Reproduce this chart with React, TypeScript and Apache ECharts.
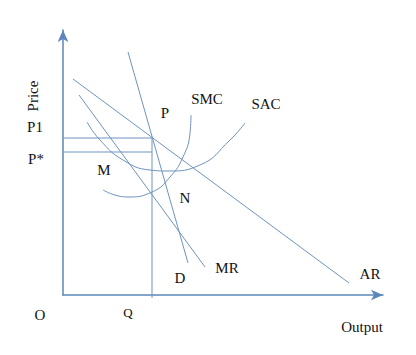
import React, { useEffect, useRef } from "react";
import * as echarts from "echarts";

// Economic diagram values (abstract units: output on x, price on y)
const arLine: number[][] = [[10, 216], [286, 12]];
const mrLine: number[][] = [[16, 200], [142, 28]];
const dLine: number[][] = [[65, 243], [125, 32]];
const sacCurve: number[][] = [[24, 173], [37, 155], [60, 135], [87, 125], [105, 124], [137, 130], [167, 155], [182, 172]];
const smcCurve: number[][] = [[40, 105], [64, 98], [89, 103], [107, 118], [120, 138], [127, 162], [128, 180]];
const p1Price = 157;
const pStarPrice = 143;
const qOutput = 89;

const LINE = "#6f93c0";
const AXIS = "#5b86bb";
const FONT = "15px 'Liberation Serif', 'Times New Roman', serif";

export default function App() {
  const ref = useRef<HTMLDivElement>(null);
  useEffect(() => {
    if (!ref.current) return;
    const chart = echarts.init(ref.current, undefined, { renderer: "svg" });
    const lineSeries = (name: string, data: number[][], smooth: boolean | number = false, clip = true) => ({
      name,
      type: "line",
      data,
      smooth,
      clip,
      showSymbol: false,
      symbol: "none",
      lineStyle: { color: LINE, width: 1 },
      silent: true,
    });
    const txt = (text: string, x: number, y: number, font = FONT, rotation = 0) => ({
      type: "text",
      x,
      y,
      rotation,
      style: { text, fill: "#111", font, textAlign: "center", textVerticalAlign: "middle" },
    });
    chart.setOption({
      animation: false,
      grid: { left: 63, right: 33, top: 30, bottom: 60 },
      xAxis: {
        type: "value",
        min: 0,
        max: 320,
        axisLine: { show: true, onZero: false, symbol: ["none", "arrow"], symbolSize: [8, 12], lineStyle: { color: AXIS, width: 1.5 } },
        axisTick: { show: false },
        axisLabel: { show: false },
        splitLine: { show: false },
      },
      yAxis: {
        type: "value",
        min: 0,
        max: 265,
        axisLine: { show: true, onZero: false, symbol: ["none", "arrow"], symbolSize: [8, 12], lineStyle: { color: AXIS, width: 1.5 } },
        axisTick: { show: false },
        axisLabel: { show: false },
        splitLine: { show: false },
      },
      series: [
        lineSeries("AR", arLine),
        lineSeries("MR", mrLine),
        lineSeries("D", dLine),
        lineSeries("SAC", sacCurve, 0.5),
        lineSeries("SMC", smcCurve, 0.5),
        lineSeries("P1", [[0, p1Price], [qOutput, p1Price]]),
        lineSeries("P*", [[0, pStarPrice], [qOutput, pStarPrice]]),
        lineSeries("Q", [[qOutput, p1Price], [qOutput, -3]], false, false),
      ],
      graphic: [
        txt("Price", 33, 96, FONT, Math.PI / 2),
        txt("P1", 35, 127),
        txt("P*", 36, 159),
        txt("M", 104, 170),
        txt("P", 165, 113),
        txt("SMC", 207, 99),
        txt("SAC", 266, 104),
        txt("N", 185, 198),
        txt("D", 180, 278),
        txt("MR", 227, 268),
        txt("AR", 370, 274),
        txt("O", 40, 315),
        txt("Q", 128, 312, "13px 'Liberation Serif', 'Times New Roman', serif"),
        txt("Output", 362, 327),
      ],
    });
    return () => chart.dispose();
  }, []);
  return <div ref={ref} style={{ width: 416, height: 355, position: "absolute", left: 0, top: 0 }} />;
}
